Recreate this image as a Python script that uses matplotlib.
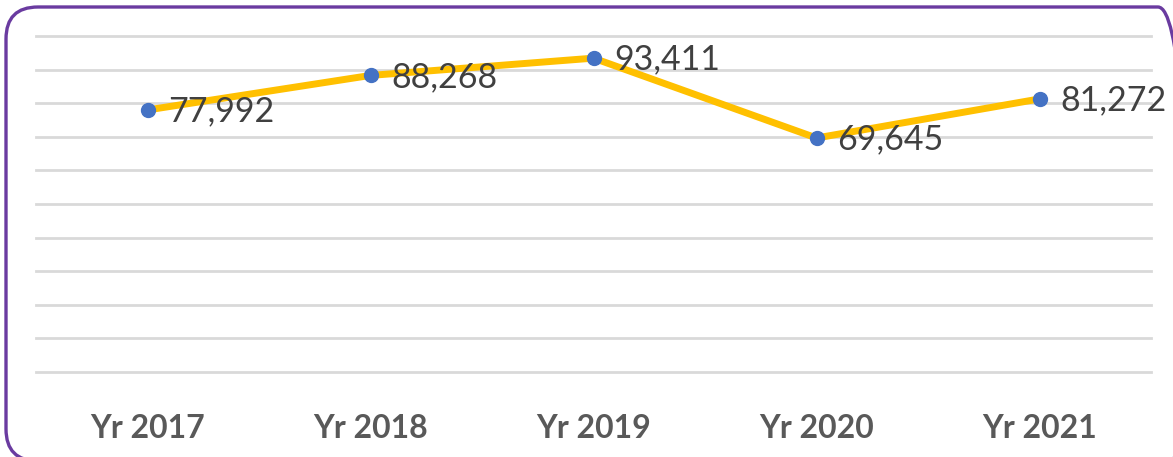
import matplotlib.pyplot as plt
from matplotlib.patches import FancyBboxPatch
from matplotlib.transforms import IdentityTransform

years = ['Yr 2017', 'Yr 2018', 'Yr 2019', 'Yr 2020', 'Yr 2021']
values = [77992, 88268, 93411, 69645, 81272]

W, H = 1173, 457
fig = plt.figure(figsize=(W / 100, H / 100), dpi=100)
fig.patch.set_facecolor('white')

# rounded purple frame (pixel coords), cut off at right and bottom
frame = FancyBboxPatch((6, -4), 1184, 454,
                       boxstyle='round,pad=0,rounding_size=32',
                       transform=IdentityTransform(), facecolor='none',
                       edgecolor='#6a3ba0', linewidth=2.4, zorder=10)
fig.patches.append(frame)

ax = fig.add_axes([36 / W, 1 - 372 / H, (1151 - 36) / W, (372 - 36) / H])
ax.set_facecolor('none')
x = list(range(len(years)))
ax.set_xlim(-0.5, len(years) - 0.5)
ax.set_ylim(0, 100000)
ax.set_yticks(range(0, 100001, 10000))
ax.yaxis.grid(True, color='#d9d9d9', linewidth=2)
for gl in ax.get_ygridlines():
    gl.set_clip_on(False)
ax.set_axisbelow(True)
ax.tick_params(axis='y', left=False, labelleft=False)
ax.tick_params(axis='x', bottom=False, pad=27)
for s in ax.spines.values():
    s.set_visible(False)

ax.plot(x, values, color='#ffc000', linewidth=5, solid_capstyle='round', zorder=3)
ax.plot(x, values, 'o', color='#4472c4', markersize=10, zorder=4)

for xi, v in zip(x, values):
    ax.annotate(f'{v:,}', (xi, v), xytext=(15, -1), textcoords='offset points',
                ha='left', va='center', fontsize=24.5, color='#404040',
                family='Lato', zorder=5)

ax.set_xticks(x)
ax.set_xticklabels(years, fontsize=23, fontweight='bold', color='#595959', family='Lato')

fig.savefig('out.png', dpi=100)
